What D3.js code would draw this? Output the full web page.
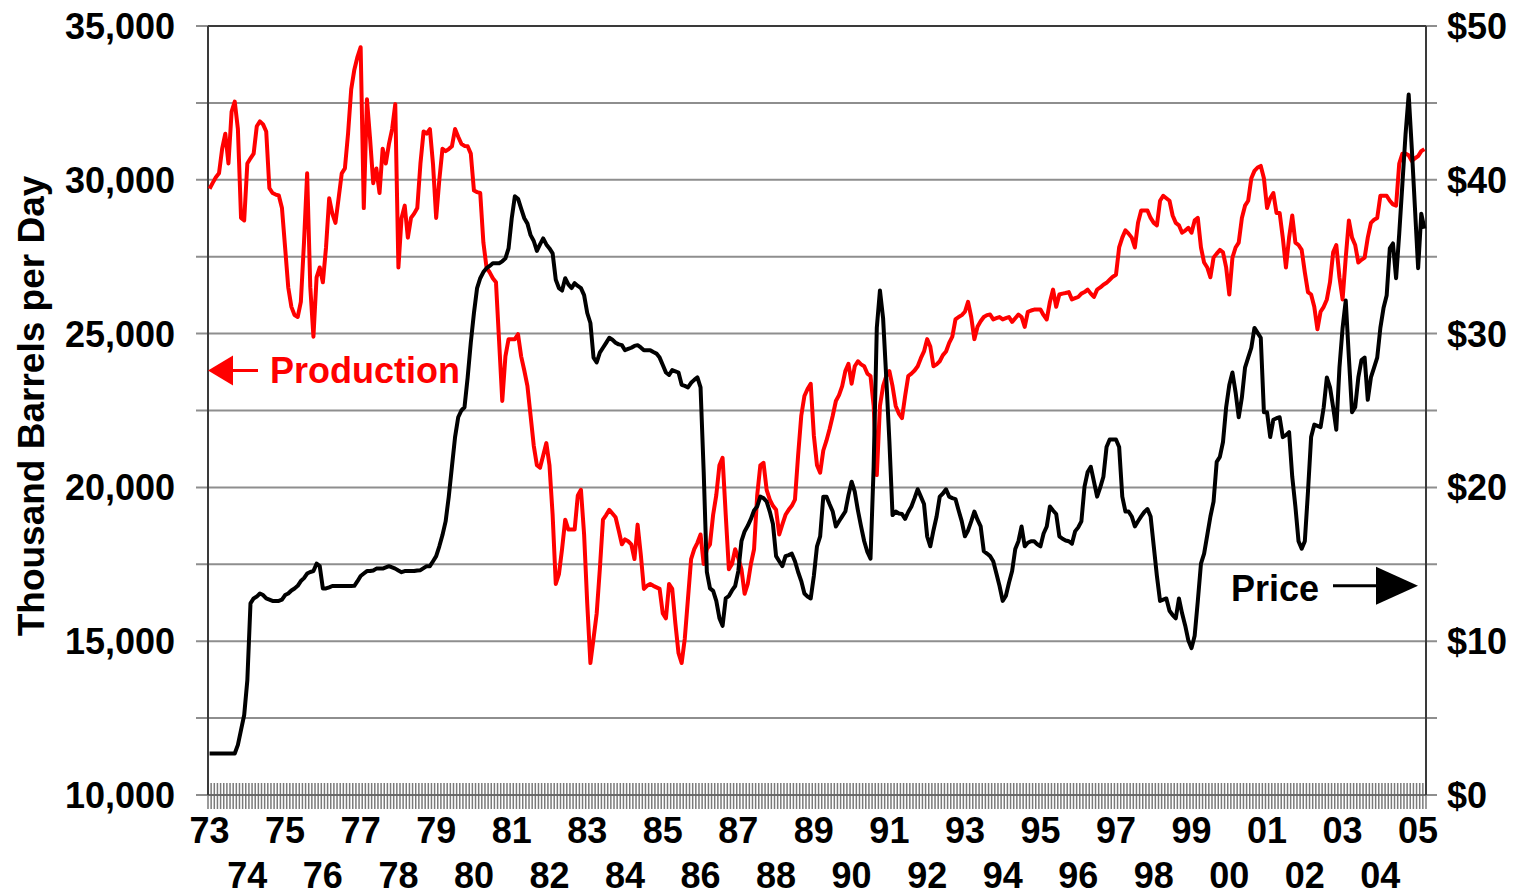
<!DOCTYPE html>
<html>
<head>
<meta charset="utf-8">
<script src="https://cdn.jsdelivr.net/npm/d3@7"></script>
<style>
	body { margin: 0; background: #fff; }
	svg { display: block; }
	text { font-family: "Liberation Sans", Arial, sans-serif; font-weight: bold; }
</style>
</head>
<body>
<svg id="chart"></svg>
<script>

// ============================================================================== //
// DATA ========================================================================= //
// ============================================================================== //

var startYear = 1973;

// thousand barrels per day, monthly from Jan 1973 (one row per year)
var production = [
	29710, 29900, 30080, 30210, 31010, 31500, 30530, 32220, 32540, 31650, 28760, 28680,
	30530, 30700, 30850, 31740, 31900, 31800, 31570, 29730, 29570, 29520, 29490, 29080,
	27800, 26500, 25870, 25600, 25540, 26030, 27960, 30210, 26510, 24900, 26830, 27150,
	26670, 27800, 29400, 28900, 28600, 29400, 30210, 30370, 31500, 32940, 33580, 34000,
	34310, 29080, 32620, 31330, 29890, 30370, 29570, 31010, 30530, 31170, 31650, 32460,
	27150, 28760, 29160, 28120, 28760, 28900, 29080, 30530, 31570, 31500, 31650, 30500,
	28760, 30000, 31010, 30930, 31000, 31090, 31650, 31400, 31170, 31100, 31090, 30850,
	29650, 29600, 29570, 27960, 27150, 26990, 26800, 26670, 24740, 22810, 24260, 24820,
	24820, 24820, 24980, 24260, 23800, 23290, 22330, 21360, 20720, 20640, 21040, 21440,
	20720, 19110, 16860, 17180, 18000, 18950, 18630, 18630, 18630, 19740, 19920, 18470,
	16220, 14290, 15090, 15900, 17340, 18950, 19100, 19270, 19150, 19030, 18600, 18150,
	18310, 18250, 18150, 17670, 18790, 17830, 16700, 16800, 16860, 16800, 16750, 16700,
	15900, 15740, 16860, 16700, 15580, 14610, 14290, 15090, 16380, 17670, 17990, 18200,
	18470, 17510, 17990, 18150, 19110, 19750, 20720, 20960, 19110, 17340, 17510, 17990,
	17700, 17340, 16540, 16860, 17510, 17990, 19750, 20720, 20800, 19920, 19600, 19400,
	19270, 18470, 18800, 19110, 19270, 19400, 19600, 21040, 22330, 22970, 23200, 23370,
	21690, 20720, 20480, 21200, 21520, 21900, 22330, 22810, 23000, 23290, 23780, 24020,
	23370, 23940, 24100, 24000, 23940, 23700, 23620, 22650, 20400, 22650, 23290, 23620,
	23780, 23290, 22650, 22400, 22250, 22970, 23620, 23700, 23800, 23940, 24200, 24420,
	24820, 24580, 23940, 24000, 24100, 24300, 24420, 24700, 24900, 25460, 25540, 25600,
	25710, 26030, 25540, 24820, 25220, 25400, 25540, 25600, 25620, 25460, 25500, 25540,
	25460, 25500, 25540, 25380, 25500, 25620, 25540, 25220, 25710, 25750, 25780, 25780,
	25780, 25600, 25460, 26030, 26430, 25870, 26270, 26300, 26320, 26350, 26110, 26150,
	26190, 26300, 26350, 26430, 26300, 26190, 26430, 26500, 26590, 26650, 26750, 26850,
	26910, 27800, 28120, 28360, 28250, 28120, 27800, 28600, 29000, 29000, 29000, 28760,
	28600, 28520, 29320, 29480, 29400, 29320, 28840, 28600, 28520, 28280, 28350, 28440,
	28280, 28680, 28760, 27800, 27310, 27150, 26830, 27470, 27600, 27720, 27640, 27150,
	26270, 27470, 27800, 27960, 28760, 29160, 29320, 30050, 30290, 30400, 30450, 30050,
	29080, 29400, 29570, 28920, 28920, 28120, 27150, 28120, 28840, 27960, 27880, 27720,
	26990, 26350, 26270, 25870, 25140, 25710, 25870, 26110, 26670, 27640, 27880, 26830,
	26110, 27470, 28680, 28120, 27880, 27310, 27400, 27470, 28120, 28600, 28700, 28760,
	29480, 29480, 29480, 29320, 29200, 29160, 30530, 30850, 30850, 30800, 30610, 30700,
	30770, 30930, 31000
];

// $ per barrel, same months
var price = [
	2.70, 2.70, 2.70, 2.70, 2.70, 2.70, 2.70, 2.70, 2.70, 3.26, 4.23, 5.20,
	7.46, 12.46, 12.78, 12.90, 13.10, 13.00, 12.78, 12.70, 12.62, 12.62, 12.62, 12.70,
	13.00, 13.10, 13.30, 13.43, 13.60, 13.91, 14.10, 14.40, 14.50, 14.56, 15.04, 14.88,
	13.43, 13.43, 13.50, 13.59, 13.59, 13.59, 13.59, 13.59, 13.59, 13.59, 13.60, 13.90,
	14.24, 14.40, 14.56, 14.56, 14.60, 14.72, 14.72, 14.72, 14.80, 14.88, 14.80, 14.72,
	14.60, 14.49, 14.56, 14.56, 14.56, 14.56, 14.60, 14.62, 14.75, 14.88, 14.88, 15.20,
	15.53, 16.17, 16.90, 17.79, 19.40, 21.34, 23.27, 24.56, 25.00, 25.21, 27.15, 29.41,
	31.34, 32.96, 33.60, 34.00, 34.25, 34.40, 34.57, 34.57, 34.57, 34.70, 34.89, 35.54,
	37.48, 38.93, 38.77, 38.12, 37.50, 37.15, 36.40, 36.02, 35.38, 35.80, 36.19, 35.80,
	35.54, 35.22, 33.50, 32.96, 32.80, 33.60, 33.20, 32.96, 33.28, 33.10, 32.96, 32.50,
	31.34, 30.69, 28.44, 28.12, 28.76, 29.08, 29.40, 29.73, 29.60, 29.41, 29.30, 29.25,
	28.92, 29.00, 29.08, 29.20, 29.25, 29.10, 28.92, 28.92, 28.92, 28.80, 28.70, 28.44,
	27.96, 27.47, 27.31, 27.63, 27.55, 27.47, 26.67, 26.60, 26.50, 26.80, 26.99, 27.15,
	26.50, 21.00, 14.50, 13.43, 13.27, 12.62, 11.50, 11.00, 12.78, 12.94, 13.30, 13.59,
	14.56, 16.50, 17.14, 17.50, 17.95, 18.50, 18.76, 19.40, 19.30, 19.08, 18.43, 17.62,
	15.53, 15.20, 14.88, 15.53, 15.60, 15.69, 15.20, 14.50, 13.91, 13.10, 12.90, 12.78,
	14.24, 16.17, 16.82, 19.40, 19.40, 18.90, 18.43, 17.46, 17.80, 18.11, 18.43, 19.50,
	20.37, 19.72, 18.50, 17.46, 16.50, 15.80, 15.37, 21.34, 30.37, 32.80, 31.00, 27.15,
	23.00, 18.20, 18.43, 18.30, 18.27, 17.95, 18.40, 18.76, 19.30, 19.88, 19.40, 18.92,
	16.82, 16.17, 17.20, 18.11, 19.40, 19.60, 19.88, 19.40, 19.30, 19.24, 18.50, 17.79,
	16.82, 17.20, 17.79, 18.43, 17.90, 17.46, 15.85, 15.70, 15.53, 15.20, 14.40, 13.59,
	12.62, 12.94, 13.80, 14.56, 16.00, 16.50, 17.46, 16.17, 16.40, 16.50, 16.50, 16.30,
	16.17, 17.00, 17.46, 18.76, 18.50, 18.27, 16.82, 16.66, 16.55, 16.50, 16.34, 17.14,
	17.40, 17.79, 20.05, 21.00, 21.34, 20.37, 19.40, 20.00, 20.69, 22.63, 23.11, 23.11,
	23.11, 22.63, 19.40, 18.43, 18.43, 18.11, 17.46, 17.80, 18.11, 18.40, 18.59, 18.11,
	16.17, 14.24, 12.62, 12.70, 12.78, 11.98, 11.70, 11.49, 12.78, 11.81, 11.01, 10.04,
	9.55, 10.36, 12.62, 15.04, 15.69, 16.90, 18.11, 19.08, 21.66, 21.98, 22.95, 25.21,
	26.66, 27.47, 26.18, 24.56, 25.85, 27.79, 28.44, 29.08, 30.37, 30.05, 29.73, 24.89,
	24.89, 23.27, 24.40, 24.50, 24.56, 23.27, 23.40, 23.59, 20.69, 18.76, 16.50, 16.01,
	16.50, 19.72, 23.27, 24.08, 24.00, 23.92, 25.21, 27.15, 26.50, 25.21, 23.75, 27.79,
	30.37, 32.15, 28.44, 24.89, 25.21, 27.15, 28.28, 28.44, 25.70, 27.15, 27.79, 28.44,
	30.37, 31.66, 32.47, 35.54, 35.86, 33.60, 36.51, 39.73, 42.96, 45.54, 41.99, 38.12,
	34.25, 37.80, 36.83
];

var gridValues = [10000, 12500, 15000, 17500, 20000, 22500, 25000, 27500, 30000, 32500, 35000];
var prodLabels = [10000, 15000, 20000, 25000, 30000, 35000];
var priceLabels = [0, 10, 20, 30, 40, 50];
var yearLabels = ["73", "74", "75", "76", "77", "78", "79", "80", "81", "82", "83",
	"84", "85", "86", "87", "88", "89", "90", "91", "92", "93", "94", "95", "96",
	"97", "98", "99", "00", "01", "02", "03", "04", "05"];

// ============================================================================== //
// SETUP ======================================================================== //
// ============================================================================== //

var width = 1517,
	height = 895,
	m = [26, 91, 100, 208],
	x0 = m[3],
	x1 = width - m[1],
	y0 = m[0],
	y1 = height - m[2];

var svg = d3.select("#chart")
	.attr("width", width)
	.attr("height", height);

// one category per month, like the original category axis
var months = production.map((d, i) => `${startYear + Math.floor(i / 12)}-${i % 12 + 1}`);

var xScale = d3.scaleBand()
	.domain(months)
	.range([x0, x1])
	.padding(0);

var bw = xScale.bandwidth();

var yProd = d3.scaleLinear()
	.domain([10000, 35000])
	.range([y1, y0]);

var yPrice = d3.scaleLinear()
	.domain([0, 50])
	.range([y1, y0]);

// ============================================================================== //
// DRAW ========================================================================= //
// ============================================================================== //

// gridlines (with the little outside ticks on both sides)
svg.append("g")
	.attr("class", "grid")
	.selectAll("line")
	.data(gridValues)
	.join("line")
	.attr("x1", x0 - 12)
	.attr("x2", x1 + 11)
	.attr("y1", d => yProd(d))
	.attr("y2", d => yProd(d))
	.attr("stroke", "#8e8e8e")
	.attr("stroke-width", 2);

// top border
svg.append("line")
	.attr("x1", x0)
	.attr("x2", x1)
	.attr("y1", y0)
	.attr("y2", y0)
	.attr("stroke", "#3a3a3a")
	.attr("stroke-width", 2);

// monthly tick marks across the bottom axis
svg.append("g")
	.attr("class", "monthTicks")
	.selectAll("line")
	.data(months)
	.join("line")
	.attr("x1", d => xScale(d))
	.attr("x2", d => xScale(d))
	.attr("y1", y1 - 12)
	.attr("y2", y1 + 14)
	.attr("stroke", "#7a7a7a")
	.attr("stroke-width", 1.5);

svg.append("line")
	.attr("x1", x1)
	.attr("x2", x1)
	.attr("y1", y1 - 12)
	.attr("y2", y1 + 14)
	.attr("stroke", "#7a7a7a")
	.attr("stroke-width", 1.5);

svg.append("line")
	.attr("x1", x0)
	.attr("x2", x1)
	.attr("y1", y1)
	.attr("y2", y1)
	.attr("stroke", "#606060")
	.attr("stroke-width", 1.5);

// left and right axis lines
svg.append("line")
	.attr("x1", x0)
	.attr("x2", x0)
	.attr("y1", y0)
	.attr("y2", y1)
	.attr("stroke", "#3a3a3a")
	.attr("stroke-width", 2);

svg.append("line")
	.attr("x1", x1)
	.attr("x2", x1)
	.attr("y1", y0)
	.attr("y2", y1)
	.attr("stroke", "#3a3a3a")
	.attr("stroke-width", 2);

// tick labels
svg.append("g")
	.selectAll("text")
	.data(prodLabels)
	.join("text")
	.attr("x", x0 - 33)
	.attr("y", d => yProd(d))
	.attr("dy", "0.36em")
	.attr("text-anchor", "end")
	.attr("font-size", 36)
	.attr("fill", "#000")
	.text(d => d3.format(",")(d));

svg.append("g")
	.selectAll("text")
	.data(priceLabels)
	.join("text")
	.attr("x", x1 + 21)
	.attr("y", d => yPrice(d))
	.attr("dy", "0.36em")
	.attr("text-anchor", "start")
	.attr("font-size", 36)
	.attr("fill", "#000")
	.text(d => "$" + d);

svg.append("g")
	.selectAll("text")
	.data(yearLabels)
	.join("text")
	.attr("x", (d, i) => xScale(months[i * 12]) + bw / 2)
	.attr("y", (d, i) => (i % 2 == 0 ? 843 : 888))
	.attr("text-anchor", "middle")
	.attr("font-size", 36)
	.attr("fill", "#000")
	.text(d => d);

svg.append("text")
	.attr("transform", "translate(44, 406) rotate(-90)")
	.attr("text-anchor", "middle")
	.attr("font-size", 37)
	.attr("fill", "#000")
	.text("Thousand Barrels per Day");

// series
var prodLine = d3.line()
	.x((d, i) => xScale(months[i]) + bw / 2)
	.y(d => yProd(d));

var priceLine = d3.line()
	.x((d, i) => xScale(months[i]) + bw / 2)
	.y(d => yPrice(d));

svg.append("path")
	.datum(production)
	.attr("d", prodLine)
	.attr("fill", "none")
	.attr("stroke", "#ff0000")
	.attr("stroke-width", 4)
	.attr("stroke-linejoin", "round");

svg.append("path")
	.datum(price)
	.attr("d", priceLine)
	.attr("fill", "none")
	.attr("stroke", "#000")
	.attr("stroke-width", 4)
	.attr("stroke-linejoin", "round");

// annotations
let pa = yProd(23800);

svg.append("line")
	.attr("x1", x0 + 22)
	.attr("x2", x0 + 50)
	.attr("y1", pa)
	.attr("y2", pa)
	.attr("stroke", "#ff0000")
	.attr("stroke-width", 3);

svg.append("path")
	.attr("d", `M ${x0} ${pa} L ${x0 + 25} ${pa - 15} L ${x0 + 25} ${pa + 15} Z`)
	.attr("fill", "#ff0000");

svg.append("text")
	.attr("x", x0 + 62)
	.attr("y", pa + 12)
	.attr("font-size", 36)
	.attr("fill", "#ff0000")
	.text("Production");

let qa = yPrice(13.6);

svg.append("text")
	.attr("x", 1231)
	.attr("y", qa + 15)
	.attr("font-size", 36)
	.attr("fill", "#000")
	.text("Price");

svg.append("line")
	.attr("x1", 1333)
	.attr("x2", 1380)
	.attr("y1", qa)
	.attr("y2", qa)
	.attr("stroke", "#000")
	.attr("stroke-width", 3);

svg.append("path")
	.attr("d", `M ${x1 - 8} ${qa} L ${x1 - 50} ${qa - 19} L ${x1 - 50} ${qa + 19} Z`)
	.attr("fill", "#000");

</script>
</body>
</html>
